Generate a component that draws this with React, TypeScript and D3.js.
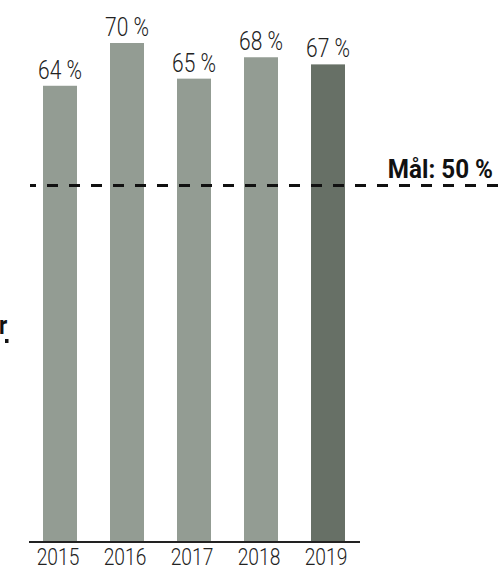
import * as d3 from 'd3';

const years = ['2015', '2016', '2017', '2018', '2019'];
const values = [64, 70, 65, 68, 67];
const goal = 50;
const goalLabel = 'Mål: 50 %';

const W = 498;
const H = 571;
const font = 'Roboto, "Liberation Sans", sans-serif';

// condensed text: fonts installed here have no narrow cut, so squeeze horizontally
function Narrow({ x, y, sx, anchor, children, ...rest }: any) {
  return (
    <text transform={`translate(${x},${y}) scale(${sx},1)`} textAnchor={anchor} {...rest}>
      {children}
    </text>
  );
}

export default function App() {
  const x = d3.scaleBand<string>()
    .domain(years)
    .range([26.5, 361.5])
    .paddingInner(33 / 67)
    .paddingOuter(16.5 / 67);

  const y = d3.scaleLinear().domain([0, 70]).range([542, 43]);

  const barColor = (i: number) => (i === years.length - 1 ? '#677066' : '#939c93');
  const cx = (yr: string) => (x(yr) ?? 0) + x.bandwidth() / 2;

  return (
    <svg width={W} height={H} style={{ position: 'absolute', left: 0, top: 0 }} fontFamily={font}>
      {/* bars */}
      {values.map((v, i) => (
        <rect
          key={years[i]}
          x={x(years[i])}
          y={y(v)}
          width={x.bandwidth()}
          height={y(0) - y(v)}
          fill={barColor(i)}
        />
      ))}

      {/* value labels */}
      {values.map((v, i) => (
        <Narrow
          key={'l' + years[i]}
          x={cx(years[i])}
          y={y(v) - 7}
          sx={0.84}
          anchor="middle"
          fontSize={25}
          fontWeight={300}
          fill="#222"
        >
          {v} %
        </Narrow>
      ))}

      {/* baseline */}
      <line x1={29} x2={360} y1={y(0)} y2={y(0)} stroke="#222" strokeWidth={2} />

      {/* year labels */}
      {years.map((yr) => (
        <Narrow
          key={'y' + yr}
          x={cx(yr) - 2}
          y={565}
          sx={0.8}
          anchor="middle"
          fontSize={24}
          fontWeight={300}
          fill="#222"
        >
          {yr}
        </Narrow>
      ))}

      {/* goal line */}
      <line
        x1={30}
        x2={W}
        y1={y(goal)}
        y2={y(goal)}
        stroke="#111"
        strokeWidth={3}
        strokeDasharray="11 11"
        strokeDashoffset={5}
      />
      <Narrow x={493} y={178} sx={0.97} anchor="end" fontSize={25} fontWeight="bold" fill="#111">
        {goalLabel}
      </Narrow>

      {/* clipped side label */}
      <Narrow x={-1} y={334} sx={0.9} anchor="start" fontSize={25} fontWeight="bold" fill="#111">r</Narrow>
      <rect x={5} y={339} width={3.5} height={4} fill="#111" />
    </svg>
  );
}
